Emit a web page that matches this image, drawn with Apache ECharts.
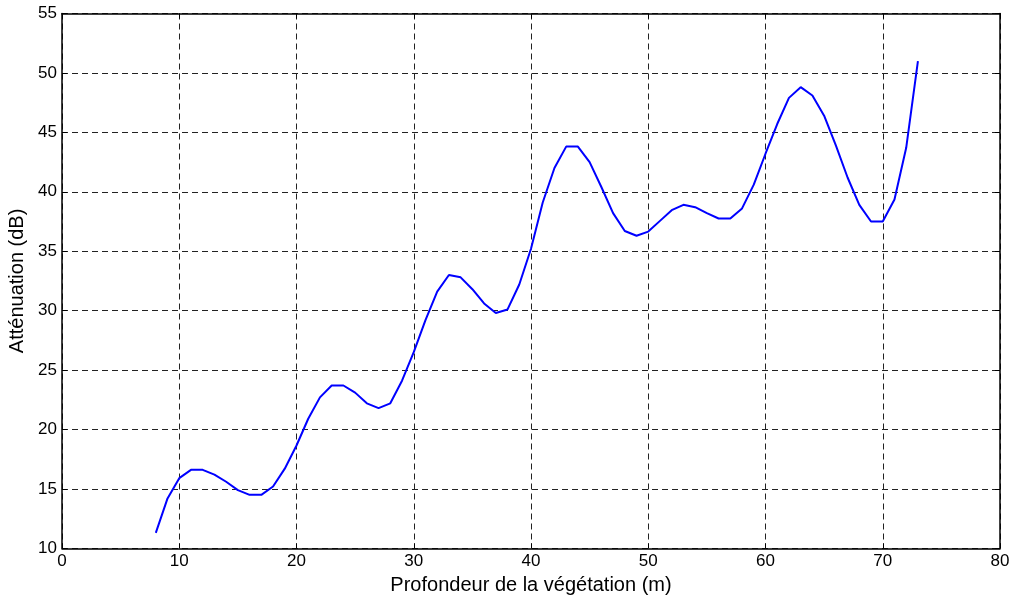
<!DOCTYPE html>
<html>
<head>
<meta charset="utf-8">
<script src="https://cdn.jsdelivr.net/npm/echarts@6/dist/echarts.min.js"></script>
<style>
html,body{margin:0;padding:0;background:#fff;}
#chart{width:1011px;height:595px;}
</style>
</head>
<body>
<div id="chart"></div>
<script>
const depths = [8,9,10,11,12,13,14,15,16,17,18,19,20,21,22,23,24,25,26,27,28,29,30,31,32,33,34,35,36,37,38,39,40,41,42,43,44,45,46,47,48,49,50,51,52,53,54,55,56,57,58,59,60,61,62,63,64,65,66,67,68,69,70,71,72,73];
const attenuation = [11.3,14.2,15.9,16.6,16.6,16.2,15.6,14.9,14.5,14.5,15.2,16.7,18.65,20.9,22.7,23.7,23.7,23.1,22.2,21.8,22.2,24.1,26.5,29.2,31.6,33.0,32.8,31.8,30.6,29.8,30.1,32.2,35.2,39.1,42.0,43.8,43.8,42.5,40.4,38.2,36.7,36.3,36.65,37.55,38.45,38.9,38.7,38.2,37.75,37.75,38.6,40.6,43.2,45.7,47.9,48.8,48.1,46.4,43.9,41.2,38.9,37.5,37.5,39.35,43.7,51.0];
const xTitle = 'Profondeur de la végétation (m)';
const yTitle = 'Atténuation (dB)';

const font = 'Liberation Sans, Arial, sans-serif';
const chart = echarts.init(document.getElementById('chart'), null, {renderer:'canvas'});
const dashed = {show:true, lineStyle:{color:'#222', width:1, type:[6,4]}};
const tick = {show:true, inside:true, length:5, lineStyle:{color:'#000', width:1}};
const line = {show:true, onZero:false, lineStyle:{color:'#000', width:1.5}};
chart.setOption({
  animation:false,
  backgroundColor:'#fff',
  grid:{left:62, right:11, top:13.5, bottom:46.7, containLabel:false, outerBoundsMode:'none'},
  xAxis:[{
    type:'value', min:0, max:80, interval:10, position:'bottom',
    axisLine:line, axisTick:tick, splitLine:dashed,
    axisLabel:{color:'#000', fontSize:17, fontFamily:font, margin:5},
    name:xTitle, nameLocation:'middle', nameGap:23,
    nameTextStyle:{color:'#000', fontSize:20, fontFamily:font}
  },{
    type:'value', min:0, max:80, interval:10, position:'top',
    axisLine:line, axisTick:tick, splitLine:{show:false}, axisLabel:{show:false}
  }],
  yAxis:[{
    type:'value', min:10, max:55, interval:5, position:'left',
    axisLine:line, axisTick:tick, splitLine:dashed,
    axisLabel:{color:'#000', fontSize:17, fontFamily:font, margin:5},
    name:yTitle, nameLocation:'middle', nameGap:29,
    nameTextStyle:{color:'#000', fontSize:20, fontFamily:font}
  },{
    type:'value', min:10, max:55, interval:5, position:'right',
    axisLine:line, axisTick:tick, splitLine:{show:false}, axisLabel:{show:false}
  }],
  series:[{
    type:'line',
    data: depths.map((d,i)=>[d, attenuation[i]]),
    showSymbol:false, symbol:'none',
    lineStyle:{color:'#0000ff', width:2},
    smooth:false
  }]
});
</script>
</body>
</html>
